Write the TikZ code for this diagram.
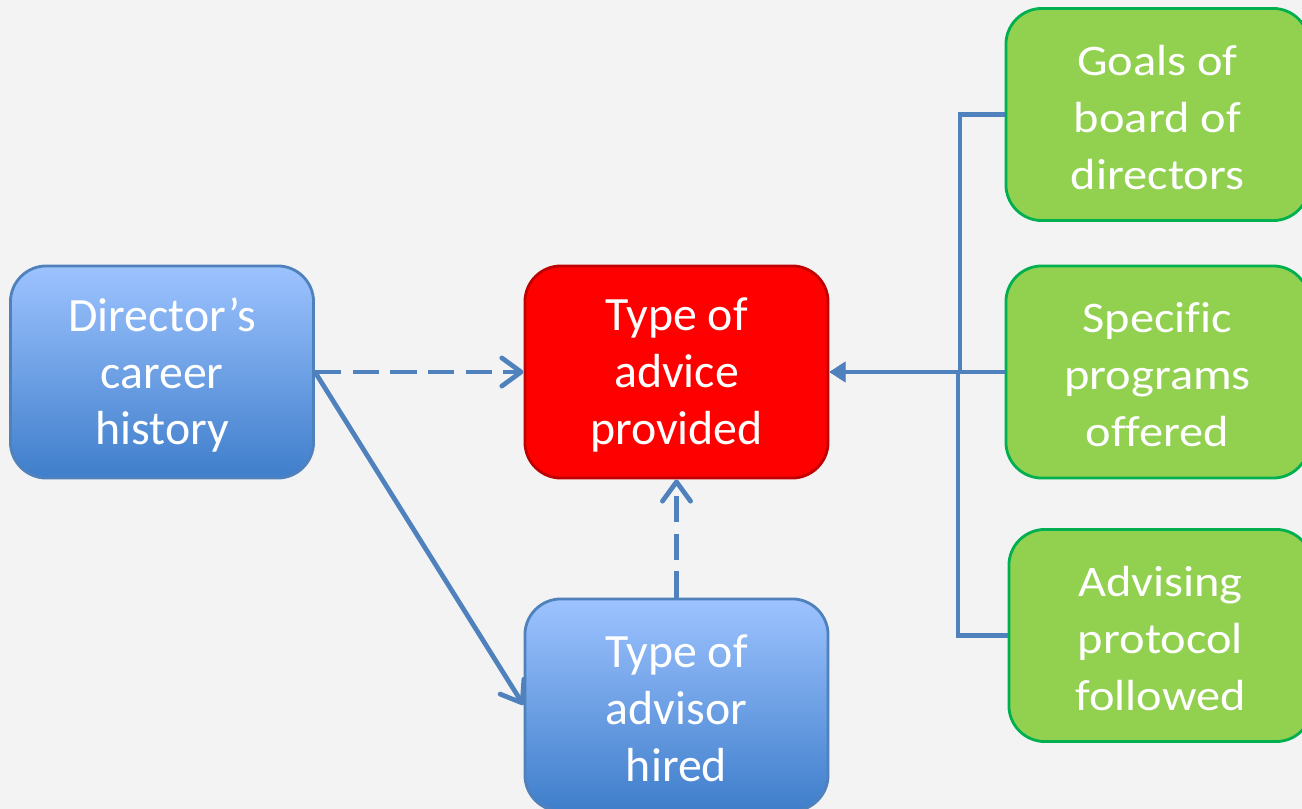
\documentclass[tikz,border=0pt]{standalone}
\usepackage{fontspec}
\setmainfont{Carlito}
\newfontfamily\widefont[FakeStretch=1.11,Ligatures=NoCommon]{Carlito}
\usetikzlibrary{arrows.meta}
\definecolor{bg}{HTML}{F3F3F3}
\definecolor{lineblue}{HTML}{4F81BD}
\definecolor{bluetop}{HTML}{9DC3FF}
\definecolor{bluebot}{HTML}{3F7ECB}
\definecolor{redfill}{HTML}{FF0000}
\definecolor{redline}{HTML}{C00000}
\definecolor{greenfill}{HTML}{92D050}
\definecolor{greenline}{HTML}{00B050}
\tikzset{
  box/.style={rectangle, rounded corners=0.36cm, minimum width=3.03cm, minimum height=2.12cm,
    inner sep=0pt, line width=0.8pt},
  bluebox/.style={box, draw=lineblue, top color=bluetop, bottom color=bluebot},
  redbox/.style={box, draw=redline, fill=redfill},
  greenbox/.style={box, draw=greenline, fill=greenfill},
  txt/.style={inner sep=0pt, align=center, text=white, font=\fontsize{13.6}{16.2}\selectfont},
  greentxt/.style={txt, font=\fontsize{12.4}{16.2}\selectfont\widefont},
  conn/.style={draw=lineblue, line width=1.35pt},
  dashconn/.style={conn, dash pattern=on 7.5pt off 3.2pt, -{Straight Barb[length=5.5pt,width=8pt,line cap=round,line join=round]}},
  solidconn/.style={conn, -{Straight Barb[length=5.5pt,width=8pt,line cap=round,line join=round]}},
  busconn/.style={conn, -{Triangle[length=4.5pt,width=5.5pt]}},
}
\begin{document}
\begin{tikzpicture}[x=0.01cm,y=-0.01cm]
\clip (0,0) rectangle (1302,809);
\fill[bg] (0,0) rectangle (1302,809);
\useasboundingbox (0,0) rectangle (1302,809);

\node[bluebox] (dir) at (162,372) {};
\node[redbox] (adv) at (676.5,372) {};
\node[bluebox] (hired) at (676.5,705) {};
\node[greenbox] (goals) at (1157.5,114.5) {};
\node[greenbox] (prog) at (1157.5,372) {};
\node[greenbox] (advising) at (1160.5,635.5) {};

\node[txt] (dirT) at ([yshift=-0.03cm]dir.center) {Director’s\\career\\history};
\node[txt] (advT) at ([yshift=-0.03cm]adv.center) {Type of\\advice\\provided};
\node[txt] (hiredT) at ([yshift=-0.03cm]hired.center) {Type of\\advisor\\hired};
\node[greentxt] (goalsT) at ([yshift=-0.03cm]goals.center) {Goals of\\board of\\directors};
\node[greentxt] (progT) at ([yshift=-0.03cm]prog.center) {Specific\\programs\\offered};
\node[greentxt] (advisingT) at ([yshift=-0.03cm]advising.center) {Advising\\protocol\\followed};

\coordinate (busA) at (960,372);
\coordinate (busB) at (958,372);

\draw[dashconn] (dir.east) -- (adv.west);
\draw[solidconn] (dir.east) -- (hired.west);
\draw[dashconn] (hired.north) -- (adv.south);
\draw[busconn] (prog.west) -- (adv.east);
\draw[busconn] (goals.west) -| (busA) -- (adv.east);
\draw[busconn] (advising.west) -| (busB) -- (adv.east);
\end{tikzpicture}
\end{document}
